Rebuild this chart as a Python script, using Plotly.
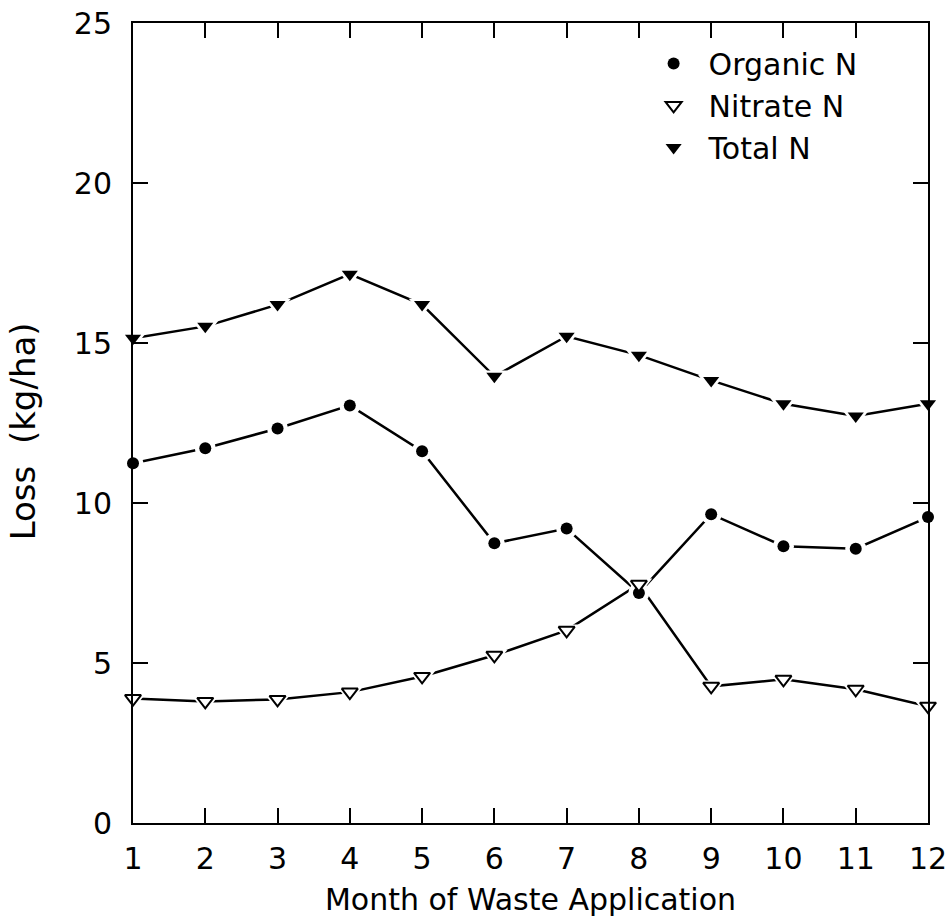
import plotly.graph_objects as go

months = list(range(1, 13))
organic_n = [11.24, 11.71, 12.33, 13.05, 11.62, 8.74, 9.20, 7.19, 9.65, 8.65, 8.57, 9.56]
nitrate_n = [3.89, 3.80, 3.86, 4.09, 4.58, 5.24, 6.02, 7.46, 4.27, 4.49, 4.18, 3.65]
total_n = [15.15, 15.52, 16.20, 17.15, 16.20, 13.96, 15.21, 14.62, 13.83, 13.10, 12.72, 13.10]

x_ticks = months
y_ticks = [0, 5, 10, 15, 20, 25]

FONT = "DejaVu Sans"
FS = 30
fig = go.Figure()

series = [
    ("Organic N", organic_n, dict(symbol="circle", size=12, color="black")),
    ("Nitrate N", nitrate_n, dict(symbol="triangle-down-open", size=14, color="black", line=dict(width=2, color="black"))),
    ("Total N", total_n, dict(symbol="triangle-down", size=14, color="black")),
]

# lines
for name, vals, mk in series:
    fig.add_trace(go.Scatter(x=months, y=vals, mode="lines", line=dict(color="black", width=2.5),
                             showlegend=False, hoverinfo="skip", cliponaxis=False))
# white halos to create gaps between lines and markers
for name, vals, mk in series:
    fig.add_trace(go.Scatter(x=months, y=vals, mode="markers",
                             marker=dict(symbol=mk["symbol"].replace("-open", ""), size=mk["size"] + 9, color="white"),
                             showlegend=False, hoverinfo="skip", cliponaxis=False))
# markers
for name, vals, mk in series:
    m = dict(mk)
    if "open" in m["symbol"]:
        m["symbol"] = "triangle-down"
        m["color"] = "white"
    fig.add_trace(go.Scatter(x=months, y=vals, mode="markers", name=name, marker=m, cliponaxis=False))

axis_common = dict(
    showline=True, linecolor="black", linewidth=2, mirror="allticks",
    ticks="inside", ticklen=15, tickwidth=2, tickcolor="black",
    showgrid=False, zeroline=False, automargin=False,
    tickfont=dict(family=FONT, size=FS, color="black"),
)

fig.update_xaxes(range=[1, 12], tickvals=x_ticks, ticklabelstandoff=8,
                 title=dict(text="Month of Waste Application", font=dict(family=FONT, size=FS, color="black"), standoff=14),
                 **axis_common)
fig.update_yaxes(range=[0, 25], tickvals=y_ticks, ticklabelstandoff=13, **axis_common)

fig.add_annotation(text="Loss  (kg/ha)", xref="paper", yref="paper", x=-0.138, y=0.49,
                   textangle=-90, showarrow=False, font=dict(family=FONT, size=34, color="black"),
                   xanchor="center", yanchor="middle")

fig.update_layout(
    width=952, height=920,
    margin=dict(l=133, r=24, t=23, b=97),
    paper_bgcolor="white", plot_bgcolor="white",
    font=dict(family=FONT, size=FS, color="black"),
    legend=dict(x=0.636, y=0.982, xanchor="left", yanchor="top", bgcolor="rgba(0,0,0,0)",
                font=dict(family=FONT, size=FS, color="black"), tracegroupgap=0, itemwidth=60),
)

fig.write_html("out.html")
